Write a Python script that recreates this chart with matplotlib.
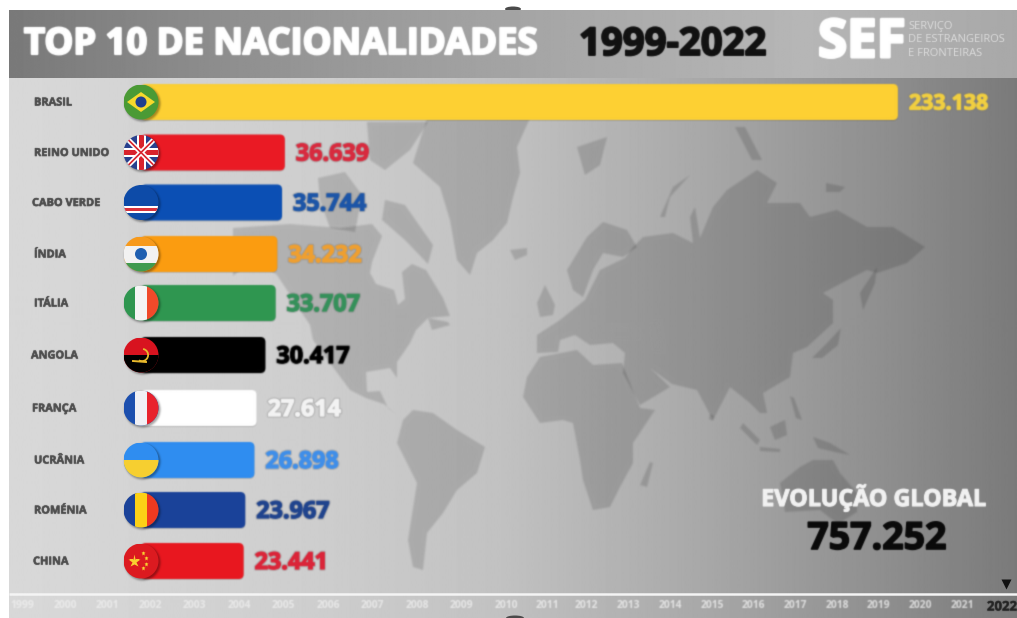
import numpy as np
import matplotlib
matplotlib.use("Agg")
import matplotlib.pyplot as plt
import matplotlib.patheffects as pe
from matplotlib.patches import Circle, Ellipse, FancyBboxPatch, PathPatch, Polygon, Rectangle, Wedge
from matplotlib.path import Path

plt.rcParams['font.family'] = ['Open Sans', 'DejaVu Sans']

# --- data ---
countries = ['BRASIL', 'REINO UNIDO', 'CABO VERDE', 'ÍNDIA', 'ITÁLIA',
             'ANGOLA', 'FRANÇA', 'UCRÂNIA', 'ROMÉNIA', 'CHINA']
values = [233138, 36639, 35744, 34232, 33707, 30417, 27614, 26898, 23967, 23441]
bar_colors = ['#fdd033', '#ea1a24', '#0b4fb4', '#fb9c10', '#2f9650',
              '#000000', '#ffffff', '#2f8df0', '#1a4299', '#e8171f']
label_colors = ['#f2d040', '#d92a3e', '#1c55a8', '#f0a030', '#35915a',
                '#000000', '#f4f4f4', '#3f8fea', '#1f438e', '#dc2438']
flags = ['br', 'uk', 'cv', 'in', 'it', 'ao', 'fr', 'ua', 'ro', 'cn']
years = list(range(1999, 2023))
total = '757.252'

# --- layout (reference pixels) ---
W, H = 1017, 618
row_y = [102, 152.5, 202.5, 254, 303, 355, 408, 460, 510, 561]
label_offset = [0, 0, -2, 0, 0, -3, -2, 0, 0, -1]
value_size = [15.4, 16.8, 16.8, 16.8, 16.8, 16.8, 16.8, 16.8, 16.8, 16.8]
year_x = [22, 65, 107, 150, 194, 239, 283, 328, 372, 417, 461, 506, 547, 586,
          628, 670, 712, 753, 795, 837, 878, 920, 962, 1002]
PX = 320.5      # value units per pixel
ZERO = 170.5    # pixel column of value 0
BAR_LEFT = 141
FLAG_X = 141


def soft(sigma):
    """agg filter: gaussian blur, the reference is a soft low-res capture"""
    n = int(3*sigma) + 1
    k = np.exp(-0.5*(np.arange(-n, n+1)/sigma)**2)
    k /= k.sum()

    def run(im, dpi):
        im = np.pad(im, ((n, n), (n, n), (0, 0)))
        a = im[..., 3:]
        pm = np.concatenate([im[..., :3]*a, a], axis=2)
        pm = np.apply_along_axis(lambda m: np.convolve(m, k, mode='same'), 0, pm)
        pm = np.apply_along_axis(lambda m: np.convolve(m, k, mode='same'), 1, pm)
        al = np.clip(pm[..., 3:], 1e-4, 1)
        return np.concatenate([np.clip(pm[..., :3]/al, 0, 1), pm[..., 3:]], axis=2), -n, -n
    return run


fig = plt.figure(figsize=(W/100, H/100), dpi=100, facecolor='white')
ax = fig.add_axes([0, 0, 1, 1])
ax.set_xlim(0, W); ax.set_ylim(H, 0); ax.axis('off')

# background gradients
xs = np.arange(W)
body = np.interp(xs, [9, 300, 500, 700, 900, 1017], [216, 206, 193, 168, 140, 122]) / 255
head = np.interp(xs, [9, 300, 600, 800, 1017], [122, 150, 170, 182, 168]) / 255
ax.imshow(body[None, :], cmap='gray', vmin=0, vmax=1, aspect='auto', extent=(9, W, H, 10), zorder=0)
ax.imshow(head[None, :], cmap='gray', vmin=0, vmax=1, aspect='auto', extent=(9, W, 78, 10), zorder=1)
ax.set_xlim(0, W); ax.set_ylim(H, 0)
ax.add_patch(Ellipse((513, 9), 16, 5, fc='#4a4a4a', ec='none', zorder=0.5))
ax.add_patch(Ellipse((515, 618), 18, 5, fc='#4a4a4a', ec='none', zorder=3))

# world map, rough outline traced by hand
LAND = [
    # greenland
    [(427, 118), (530, 118), (517, 147), (520, 173), (513, 197), (507, 223), (493, 240), (477, 253),
     (470, 275), (457, 260), (450, 220), (440, 187), (413, 163)],
    # north america
    [(233, 228), (290, 224), (340, 228), (372, 224), (382, 236), (372, 262), (370, 273), (376, 284), (394, 290),
     (398, 305), (405, 299), (402, 272), (412, 264), (426, 270), (443, 298), (450, 316), (428, 318), (416, 330),
     (410, 343), (397, 362), (397, 378), (390, 368), (366, 372), (367, 392), (380, 391), (388, 408), (398, 416),
     (384, 404), (366, 398), (350, 390), (330, 363), (313, 340), (310, 325), (277, 275), (255, 258), (233, 276)],
    [(367, 122), (428, 122), (410, 150), (385, 170), (370, 160)],
    [(385, 200), (405, 205), (433, 245), (428, 264), (405, 240), (382, 220)],
    [(318, 178), (345, 172), (362, 195), (355, 232), (330, 228), (320, 200)],
    [(428, 318), (448, 322), (450, 325), (432, 330)],
    # south america
    [(413, 410), (433, 413), (457, 430), (485, 447), (477, 473), (457, 490), (443, 513), (427, 533),
     (423, 570), (413, 567), (408, 540), (417, 483), (397, 443), (403, 420)],
    # africa
    [(540, 357), (577, 350), (593, 365), (622, 363), (640, 408), (655, 410), (633, 443), (633, 463),
     (620, 487), (610, 507), (593, 510), (583, 480), (580, 460), (573, 423), (563, 420), (540, 423),
     (523, 397), (527, 377)],
    [(650, 462), (653, 463), (647, 487), (640, 485)],
    # eurasia
    [(633, 247), (643, 237), (673, 233), (693, 243), (690, 217), (695, 207), (700, 238), (713, 207), (727, 190),
     (757, 170), (777, 183), (767, 203), (800, 203), (810, 217), (837, 210), (867, 227), (893, 227), (925, 247),
     (907, 263), (877, 273), (867, 270), (853, 277), (823, 293), (833, 300), (833, 323), (807, 347), (793, 353),
     (790, 377), (763, 393), (767, 413), (760, 413), (750, 403), (730, 387), (713, 420), (697, 390), (672, 384),
     (650, 368), (670, 387), (640, 405), (623, 373), (625, 353), (613, 343), (590, 345), (575, 335), (560, 340),
     (558, 352), (537, 353), (537, 335), (560, 320), (585, 300), (600, 270), (625, 258)],
    # scandinavia
    [(567, 270), (587, 237), (603, 222), (627, 230), (637, 247), (623, 257), (603, 253), (593, 270),
     (583, 297), (573, 290)],
    [(537, 303), (545, 285), (555, 305), (553, 315), (540, 317)],
    [(510, 250), (527, 248), (527, 255), (515, 260)],
    [(577, 147), (607, 137), (600, 165), (585, 175)],
    [(660, 217), (673, 187), (690, 175), (670, 197), (665, 217)],
    [(735, 127), (745, 127), (762, 160), (752, 160)],
    [(826, 183), (845, 187), (840, 192), (826, 192)],
    [(860, 293), (877, 267), (875, 283), (863, 310)],
    [(841, 328), (838, 345), (822, 358), (812, 358), (830, 340)],
    # australia and the islands
    [(780, 483), (800, 467), (813, 460), (833, 460), (840, 473), (857, 493), (857, 512), (838, 524),
     (820, 510), (785, 512)],
    [(770, 427), (785, 420), (787, 435), (775, 440)],
    [(743, 423), (760, 440), (757, 445), (740, 428)],
    [(760, 447), (780, 449), (780, 452), (760, 451)],
    [(813, 437), (830, 443), (850, 455), (835, 452), (818, 448)],
    [(710, 414), (714, 416), (713, 421), (709, 419)],
    [(790, 396), (794, 398), (802, 420), (796, 418)],
]
LAKES = [[(610, 327), (640, 328), (640, 340), (612, 340)],
         [(650, 323), (658, 323), (662, 350), (652, 350)]]


def signed_area(p):
    a = np.array(p)
    return np.sum(a[:, 0]*np.roll(a[:, 1], -1) - np.roll(a[:, 0], -1)*a[:, 1])


for p in LAND:
    pts = list(p)
    codes = [Path.MOVETO] + [Path.LINETO]*(len(p)-1) + [Path.CLOSEPOLY]
    pts.append(p[0])
    if len(p) > 30:  # eurasia carries the two inland seas as holes
        for lake in LAKES:
            hole = lake[::-1] if signed_area(lake)*signed_area(p) > 0 else lake
            pts += hole + [hole[0]]
            codes += [Path.MOVETO] + [Path.LINETO]*(len(hole)-1) + [Path.CLOSEPOLY]
    patch = PathPatch(Path(pts, codes), facecolor='black', edgecolor='none', alpha=0.14, zorder=2)
    patch.set_agg_filter(soft(1.0))
    ax.add_patch(patch)


def heavy(c, lw=0.9):
    return [pe.withStroke(linewidth=lw, foreground=c)]


# bars on a real value axis
bx = fig.add_axes([0, 0, 1, 1], facecolor='none')
bx.set_xlim(-ZERO*PX, (W-ZERO)*PX); bx.set_ylim(H, 0); bx.axis('off')
bar_start = (BAR_LEFT-ZERO)*PX
for y, v, c, lc, fs in zip(row_y, values, bar_colors, label_colors, value_size):
    for dy, col, al in [(-17, 'black', 0.12), (-18, c, 1)]:
        b = FancyBboxPatch((bar_start, y+dy), v-bar_start, 36, boxstyle=f"round,pad=0,rounding_size={5*PX}",
                           mutation_aspect=1/PX, fc=col, ec='none', alpha=al)
        b.set_agg_filter(soft(0.7))
        bx.add_patch(b)
    t = bx.text(v+11*PX, y+2, f"{v:,}".replace(',', '.'), color=lc, fontsize=fs, fontweight='bold',
                va='center', ha='left',
                path_effects=[pe.Stroke(linewidth=2.4, foreground='#70707050'),
                              pe.Stroke(linewidth=0.9, foreground=lc), pe.Normal()])
    t.set_agg_filter(soft(0.7))


def piece(clip, artist):
    bx.add_artist(artist)
    artist.set_clip_path(clip)


def rect(clip, x, y, w, h, c):
    piece(clip, Rectangle((x, y), w, h, fc=c, ec='none', transform=ax.transData))


def poly(clip, pts, c):
    piece(clip, Polygon(pts, closed=True, fc=c, ec='none', transform=ax.transData))


def draw_flag(kind, y):
    r, x = 17.5, FLAG_X
    sh = Circle((x+1.5, y+1.5), r+0.5, fc='black', ec='none', alpha=0.35, transform=ax.transData)
    sh.set_agg_filter(soft(1.0))
    bx.add_patch(sh)
    clip = Circle((x, y), r, transform=ax.transData)
    L, T = x-r, y-r
    D = 2*r
    if kind == 'br':
        rect(clip, L, T, D, D, '#4a9a35')
        poly(clip, [(x-14, y), (x, y-10), (x+14, y), (x, y+10)], '#f7d92c')
        piece(clip, Circle((x, y), 5.5, fc='#1f3f8f', ec='none', transform=ax.transData))
    elif kind == 'uk':
        rect(clip, L, T, D, D, '#28408e')
        for col, lw in [('white', 3.6), ('#d8222c', 1.2)]:
            for a, b in [((L, T), (L+D, T+D)), ((L, T+D), (L+D, T))]:
                piece(clip, plt.Line2D([a[0], b[0]], [a[1], b[1]], color=col, lw=lw, transform=ax.transData))
        rect(clip, x-4.5, T, 9, D, 'white')
        rect(clip, L, y-4.5, D, 9, 'white')
        rect(clip, x-2.5, T, 5, D, '#d8222c')
        rect(clip, L, y-2.5, D, 5, '#d8222c')
    elif kind == 'cv':
        rect(clip, L, T, D, D, '#0d4ba8')
        rect(clip, L, y+3.5, D, 6.5, 'white')
        rect(clip, L, y+5.5, D, 2.5, '#d8323c')
    elif kind == 'in':
        rect(clip, L, T, D, D, '#f79a1c')
        rect(clip, L, y-8, D, 17, '#f2f2f2')
        rect(clip, L, y+9, D, 9, '#3f9a4e')
        piece(clip, Circle((x, y), 6, fc='#1f5fb0', ec='none', transform=ax.transData))
    elif kind in ('it', 'fr', 'ro'):
        a, b, w = {'it': ('#2f9650', '#f04a2a', '#f4f4f4'), 'fr': ('#1c4fae', '#e8222c', '#f0f0f4'),
                   'ro': ('#1a4299', '#ee3a20', '#fcd116')}[kind]
        rect(clip, L, T, D, D, a)
        rect(clip, x-6, T, 12, D, w)
        rect(clip, x+6, T, D, D, b)
    elif kind == 'ao':
        rect(clip, L, T, D, D, '#d8131f')
        rect(clip, L, y, D, r, '#000000')
        piece(clip, Wedge((x+1, y), 7, -80, 120, width=1.8, fc='#e8b92c', ec='none', transform=ax.transData))
        piece(clip, plt.Line2D([x-8, x+5], [y+6, y+7], color='#e8b92c', lw=1.4, transform=ax.transData))
    elif kind == 'ua':
        rect(clip, L, T, D, D, '#2f8df0')
        rect(clip, L, y, D, r, '#f6cf30')
    elif kind == 'cn':
        rect(clip, L, T, D, D, '#dc1a20')
        piece(clip, plt.Line2D([x-7], [y], marker='*', ms=9.5, color='#f8d030', mec='none', transform=ax.transData))
        for dx, dy in [(2, -8), (5, -3), (5, 3), (2, 7)]:
            piece(clip, plt.Line2D([x+dx], [y+dy], marker='*', ms=3.6, color='#f8d030', mec='none', transform=ax.transData))


for f, y in zip(flags, row_y):
    draw_flag(f, y)
bx.set_xlim(-ZERO*PX, (W-ZERO)*PX); bx.set_ylim(H, 0)


def label(x, y, s, sigma=0.6, stroke=0.9, **kw):
    kw.setdefault('zorder', 5)
    kw.setdefault('va', 'center')
    kw.setdefault('fontweight', 'bold')
    t = ax.text(x, y, s, path_effects=heavy(kw['color'], stroke) if stroke else None, **kw)
    t.set_agg_filter(soft(sigma))
    return t


# country names
for name, y, dx in zip(countries, row_y, label_offset):
    label(34+dx, y+1, name, fontsize=7.9, color='#4c4c4c', stroke=0.4, ha='left', sigma=0.45)

# header
label(24, 45, 'TOP 10 DE NACIONALIDADES', fontsize=26.2, color='white', stroke=1.6)
label(579, 45, '1999-2022', fontsize=27.6, color='#111111', stroke=1.4)
label(818, 43, 'SEF', fontsize=38, color='white', stroke=2.2)
for txt, yy in zip(['SERVIÇO', 'DE ESTRANGEIROS', 'E FRONTEIRAS'], [26, 40, 53]):
    label(908, yy, txt, fontsize=8, color='#dcdcdc', fontweight='normal', stroke=0, sigma=0.5)

# total
label(874, 498, 'EVOLUÇÃO GLOBAL', fontsize=16.8, color='#f2f2f2', ha='center', stroke=0.8)
label(877, 539, total, fontsize=27, color='#0a0a0a', ha='center', stroke=1.2)

# timeline
ax.plot([9, W], [594, 594], color='#f4f4f4', lw=1.8, zorder=5, solid_capstyle='butt')
for yr, x in zip(years, year_x):
    if yr == years[-1]:
        label(x, 607, str(yr), fontsize=9.5, color='#222222', ha='center', stroke=0.3, sigma=0.5)
    else:
        label(x, 606, str(yr), fontsize=7.4, color='#f0f0f0', alpha=0.8, ha='center', stroke=0, sigma=0.7)
ax.plot([1006], [584], marker='v', ms=6.5, color='#111111', mec='none', zorder=5)
ax.set_xlim(0, W); ax.set_ylim(H, 0)

fig.savefig("out.png", dpi=100)
